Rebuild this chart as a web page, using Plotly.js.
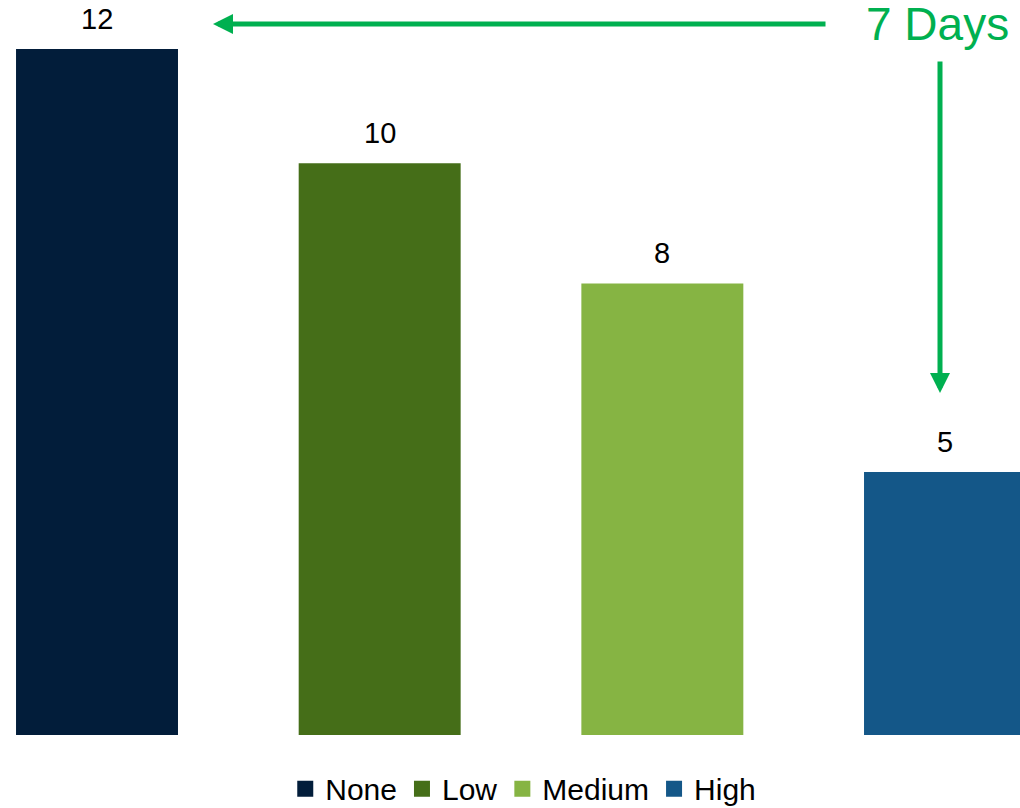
<!DOCTYPE html>
<html>
<head>
<meta charset="utf-8">
<script src="https://cdn.plot.ly/plotly-3.0.1.min.js"></script>
<style>html,body{margin:0;padding:0;background:#fff;}#chart{width:1020px;height:808px;}</style>
</head>
<body>
<div id="chart"></div>
<script>
const categories = ["None", "Low", "Medium", "High"];
const values = [12, 10, 7.9, 4.6];
const labels = ["12", "10", "8", "5"];
const colors = ["#021D3A", "#456E18", "#86B443", "#145788"];
const calloutText = "7 Days";

const FONT = "Liberation Sans, Arial, sans-serif";

const barTraces = categories.map((c, i) => ({
  type: "bar",
  name: c,
  legendgroup: c,
  showlegend: false,
  x: [c],
  y: [values[i]],
  width: 0.573,
  marker: { color: colors[i] },
  hoverinfo: "skip"
}));

// legend-only entries with larger square swatches
const legendTraces = categories.map((c, i) => ({
  type: "scatter",
  mode: "markers",
  name: c,
  legendgroup: c,
  x: [null],
  y: [null],
  marker: { symbol: "square", size: 16, color: colors[i] },
  hoverinfo: "skip"
}));

const labelAnns = categories.map((c, i) => ({
  x: c, y: values[i], xref: "x", yref: "y",
  text: labels[i], showarrow: false, yanchor: "bottom", yshift: 12,
  font: { family: FONT, size: 29, color: "#000" }
}));

const green = "#00B050";
const H = 735;
const arrowAnns = [
  { xref: "paper", yref: "paper", x: 213/1020, y: (H-24)/H, ax: 614, ay: 0, axref: "pixel", ayref: "pixel",
    showarrow: true, arrowhead: 2, arrowsize: 0.8, arrowwidth: 5, arrowcolor: green, text: "" },
  { xref: "paper", yref: "paper", x: 940/1020, y: (H-393)/H, ax: 0, ay: -333, axref: "pixel", ayref: "pixel",
    showarrow: true, arrowhead: 2, arrowsize: 0.8, arrowwidth: 5, arrowcolor: green, text: "" },
  { xref: "paper", yref: "paper", x: 1011/1020, y: (H-24)/H, xanchor: "right", yanchor: "middle",
    text: calloutText, showarrow: false,
    font: { family: FONT, size: 46, color: green } }
];

const layout = {
  width: 1020, height: 808,
  margin: { l: 0, r: 0, t: 0, b: 73, pad: 0, autoexpand: false },
  paper_bgcolor: "#fff", plot_bgcolor: "#fff",
  barmode: "overlay",
  showlegend: true,
  legend: {
    orientation: "h", x: 0.513, xanchor: "center", y: -0.073, yanchor: "middle",
    font: { family: FONT, size: 30, color: "#000" },
    itemclick: false, itemdoubleclick: false, tracegroupgap: 0
  },
  xaxis: { range: [-0.3432, 3.2653], showgrid: false, zeroline: false, showticklabels: false, showline: false, fixedrange: true },
  yaxis: { range: [0, 12.857], showgrid: false, zeroline: false, showticklabels: false, showline: false, fixedrange: true },
  annotations: labelAnns.concat(arrowAnns)
};

Plotly.newPlot("chart", barTraces.concat(legendTraces), layout, { displayModeBar: false, staticPlot: true });
</script>
</body>
</html>
